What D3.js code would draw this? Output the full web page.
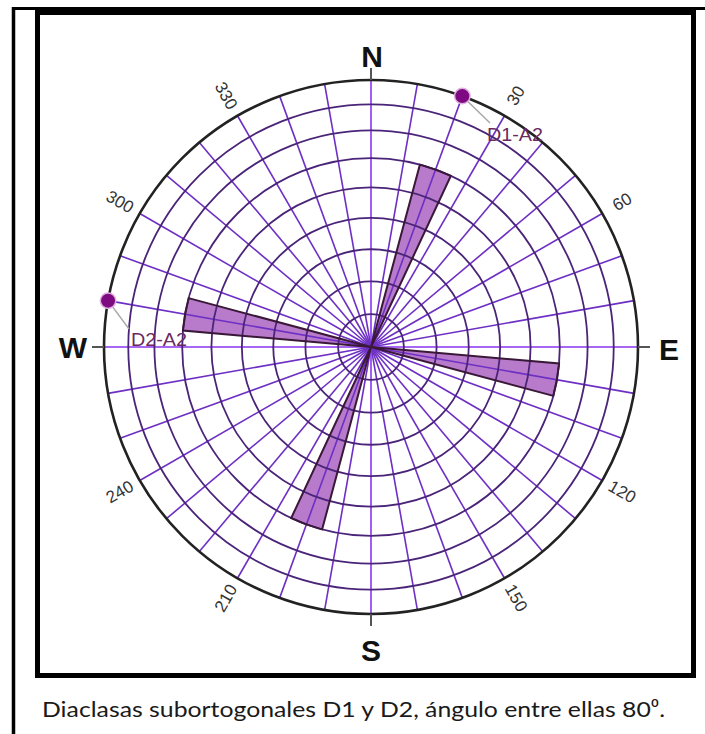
<!DOCTYPE html>
<html>
<head>
<meta charset="utf-8">
<script src="https://cdn.jsdelivr.net/npm/d3@7"></script>
<style>
  html, body { margin: 0; padding: 0; background: #fff; }
  svg { display: block; }
</style>
</head>
<body>
<svg id="chart" width="705" height="734"></svg>
<script>
// Joint set data: strike azimuths (degrees) of the two families and petal lengths
const jointSets = ["D1", "D2"];
const petalDirections = [20, 200, 280, 100];      // each strike drawn in both senses
const petalValues = [60, 60, 60, 60];            // length on the net scale
const petalSetIndex = [0, 0, 1, 1];
const binWidth = 10;

// Mean pole markers on the primitive circle
const markerLabels = ["D1-A2", "D2-A2"];
const markerAzimuths = [20, 280];

// Net graticule
const ringValues = [10, 20, 30, 40, 50, 60, 70, 80, 90];
const spokeAzimuths = d3.range(0, 360, 10);
const tickLabels = ["30", "60", "120", "150", "210", "240", "300", "330"];
const tickAzimuths = [30, 60, 120, 150, 210, 240, 300, 330];
const compassLabels = ["N", "E", "S", "W"];
const compassAzimuths = [0, 90, 180, 270];

const caption = "Diaclasas subortogonales D1 y D2, ángulo entre ellas 80⁰.";

const svg = d3.select("#chart");
const cx = 371, cy = 347, R = 267;
const rad = d => d * Math.PI / 180;

// Equal-area (Lambert) radial scale: r = R * sqrt(2) * sin(θ/2)
const areaScale = d3.scaleLinear().domain([0, 1]).range([0, R]);
const rScale = v => areaScale(Math.SQRT2 * Math.sin(rad(v) / 2));
const pt = (az, r) => [cx + r * Math.sin(rad(az)), cy - r * Math.cos(rad(az))];

// Frames
svg.append("line").attr("x1", 12).attr("x2", 705).attr("y1", 8.5).attr("y2", 8.5)
  .attr("stroke", "#000").attr("stroke-width", 3);
svg.append("line").attr("x1", 13.5).attr("x2", 13.5).attr("y1", 7).attr("y2", 734)
  .attr("stroke", "#000").attr("stroke-width", 3.5);
svg.append("rect").attr("x", 37.5).attr("y", 12.5).attr("width", 656).attr("height", 663)
  .attr("fill", "#fff").attr("stroke", "#000").attr("stroke-width", 5);

const g = svg.append("g").attr("transform", `translate(${cx},${cy})`);

// Petal fills
const arc = d3.arc().innerRadius(0);
const petals = petalDirections.map((d, i) => ({
  startAngle: rad(d - binWidth / 2),
  endAngle: rad(d + binWidth / 2),
  outerRadius: rScale(petalValues[i]),
  set: jointSets[petalSetIndex[i]]
}));
g.selectAll("path.petal-fill").data(petals).join("path")
  .attr("class", "petal-fill")
  .attr("d", arc)
  .attr("fill", "#b87bcb");

// Spokes
g.selectAll("line.spoke").data(spokeAzimuths).join("line")
  .attr("class", "spoke")
  .attr("x1", 0).attr("y1", 0)
  .attr("x2", d => R * Math.sin(rad(d)))
  .attr("y2", d => -R * Math.cos(rad(d)))
  .attr("stroke", d => d % 90 === 0 ? "#8a35f0" : "#6e2fc4")
  .attr("stroke-width", 1.6);

// Rings
g.selectAll("circle.ring").data(ringValues.slice(0, -1)).join("circle")
  .attr("class", "ring")
  .attr("r", d => rScale(d))
  .attr("fill", "none")
  .attr("stroke", "#4a2478")
  .attr("stroke-width", 1.8);

// Petal outlines
g.selectAll("path.petal-edge").data(petals).join("path")
  .attr("class", "petal-edge")
  .attr("d", arc)
  .attr("fill", "none")
  .attr("stroke", "#3a1838")
  .attr("stroke-width", 2);

// Primitive circle
g.append("circle").attr("r", rScale(90)).attr("fill", "none")
  .attr("stroke", "#222").attr("stroke-width", 2.6);

// Cardinal ticks outside the primitive
g.selectAll("line.tick").data(compassAzimuths).join("line")
  .attr("x1", d => R * Math.sin(rad(d))).attr("y1", d => -R * Math.cos(rad(d)))
  .attr("x2", d => (R + 12) * Math.sin(rad(d))).attr("y2", d => -(R + 12) * Math.cos(rad(d)))
  .attr("stroke", "#555").attr("stroke-width", 2);

// Azimuth labels
g.selectAll("text.az").data(tickAzimuths).join("text")
  .attr("class", "az")
  .attr("transform", (d, i) => {
    const [x, y] = [290 * Math.sin(rad(d)), -290 * Math.cos(rad(d))];
    const rot = d < 180 ? d - 90 : d - 270;
    return `translate(${x},${y}) rotate(${rot})`;
  })
  .attr("text-anchor", "middle").attr("dominant-baseline", "central")
  .attr("font-family", "Liberation Sans, Arial, sans-serif")
  .attr("font-size", 17).attr("fill", "#333")
  .text((d, i) => tickLabels[i]);

// Compass letters
const compassPos = [[372, 67], [669, 360], [371, 661], [73, 358]];
svg.selectAll("text.compass").data(compassLabels).join("text")
  .attr("class", "compass")
  .attr("x", (d, i) => compassPos[i][0]).attr("y", (d, i) => compassPos[i][1])
  .attr("text-anchor", "middle")
  .attr("font-family", "Liberation Sans, Arial, sans-serif")
  .attr("font-weight", "bold").attr("font-size", 30).attr("fill", "#111")
  .text(d => d);

// Markers with leader lines and labels
const leaderEnds = [[490, 123], [129, 329]];
const labelPos = [[487, 141], [131, 346]];
markerAzimuths.forEach((az, i) => {
  const [mx, my] = pt(az, R);
  svg.append("line").attr("x1", mx).attr("y1", my)
    .attr("x2", leaderEnds[i][0]).attr("y2", leaderEnds[i][1])
    .attr("stroke", "#aaa").attr("stroke-width", 1.5);
  svg.append("circle").attr("cx", mx).attr("cy", my).attr("r", 8.5)
    .attr("fill", "#e0b0e0");
  svg.append("circle").attr("cx", mx).attr("cy", my).attr("r", 7)
    .attr("fill", "#7d0a80");
  svg.append("text").attr("x", labelPos[i][0]).attr("y", labelPos[i][1])
    .attr("font-family", "Liberation Sans, Arial, sans-serif")
    .attr("font-size", 18).attr("fill", "#6a2a60")
    .attr("textLength", 56).attr("lengthAdjust", "spacingAndGlyphs")
    .text(markerLabels[i]);
});

// Caption
svg.append("text")
  .attr("x", 42).attr("y", 717)
  .attr("font-family", "Lato, 'Open Sans', sans-serif")
  .attr("font-size", 22).attr("fill", "#1a1a1a")
  .attr("textLength", 623).attr("lengthAdjust", "spacingAndGlyphs")
  .text(caption);
</script>
</body>
</html>
